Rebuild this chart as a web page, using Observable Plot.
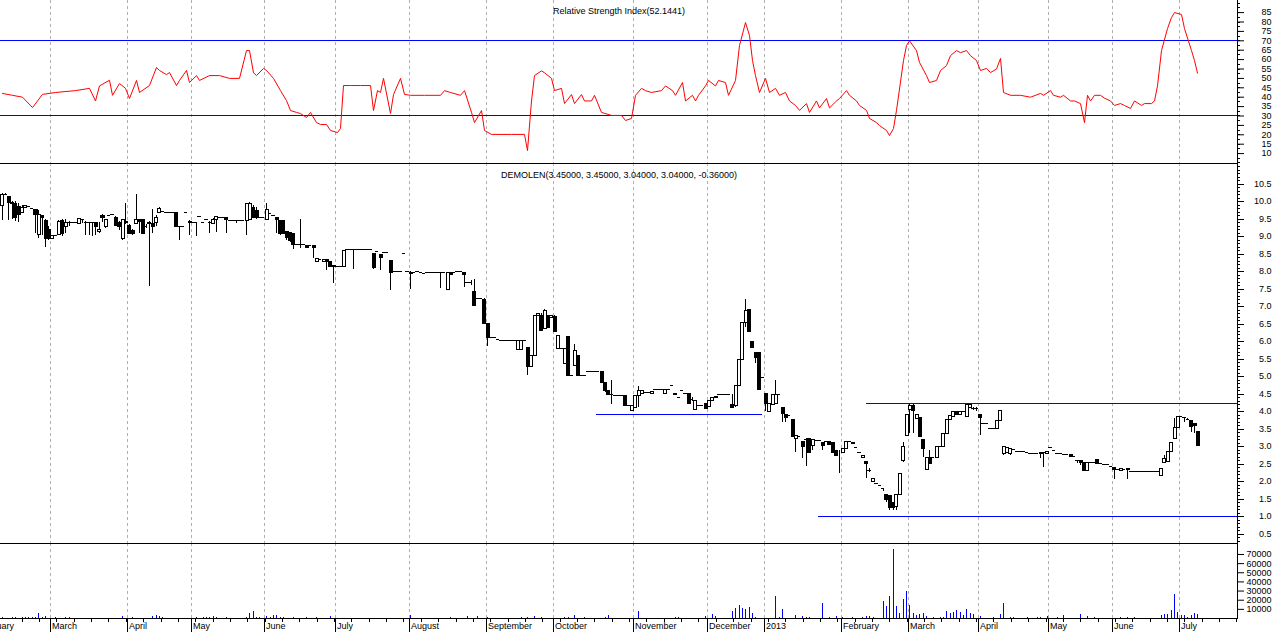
<!DOCTYPE html>
<html><head><meta charset="utf-8">
<script src="https://cdn.jsdelivr.net/npm/d3@7"></script>
<script src="https://cdn.jsdelivr.net/npm/@observablehq/plot@0.6"></script>
<style>
html,body{margin:0;padding:0;background:#fff;overflow:hidden;}
#chart{width:1274px;height:632px;overflow:hidden;}
#chart svg{display:block;}
</style></head><body><div id="chart"></div>
<script>
// Daily bars [open, high, low, close]; a single value = no-range day
const ohlc = [
// Feb 2012
[9.90,10.23,9.47,10.21],[10.22,10.24,10.2,10.22],[10.15,10.15,9.47,9.99],[9.98,10.0,9.5,9.95],[9.96,10.0,9.45,9.56],
[9.86,9.96,9.42,9.65],[9.7,9.88,9.7,9.85],[9.83,9.9,9.83,9.9],[9.87],[9.8],
[9.77,9.77,9.09,9.63],[9.07,9.75,8.94,9.63],[9.6,9.62,9.04,9.55],[9.47,9.5,8.68,8.94],[9.2,9.3,8.9,8.95],
// Mar 2012
[8.95,9.04,8.95,9.04],[9.04],[9.07,9.47,9.05,9.45],[9.47,9.5,9.0,9.09],[9.28,9.5,9.1,9.42],
[9.4,9.45,9.3,9.42],[9.42],[9.42],[9.37,9.52,9.37,9.51],[9.48,9.5,9.37,9.48],
[9.42,9.45,9.04,9.4],[9.42,9.42,9.04,9.42],[9.42,9.42,9.0,9.4],[9.4,9.42,9.04,9.3],[9.15,9.42,9.1,9.2],
[9.6,9.65,9.42,9.55],[9.28,9.5,9.25,9.48],[9.6],[9.63],[9.56,9.58,9.3,9.33],
[9.4,9.45,9.18,9.3],[8.94,9.5,8.9,9.48],[9.45,9.94,9.35,9.42],
// Apr 2012
[9.32,9.35,9.1,9.1],[9.18,9.2,9.05,9.08],[9.39,10.21,9.38,9.5],[9.48,9.5,9.1,9.45],[9.48,9.5,9.08,9.08],
[9.3,9.35,9.25,9.3],[9.42,9.45,7.58,9.38],[9.39,9.77,9.08,9.28],[9.4,9.6,9.3,9.55],[9.7,9.84,9.68,9.82],
[9.73],[9.7],[9.7],[9.7],[9.7,9.7,9.28,9.28],
[9.3,9.3,8.9,9.3],[9.3],[9.7],[9.45,9.47,9.04,9.42],
// May 2012
[9.42],[9.42,9.42,9.01,9.42],[9.58],[9.4],[9.5],
[9.42,9.45,9.08,9.42],[9.39,9.52,9.38,9.5],[9.5,9.58,9.13,9.58],[9.54],[9.54],
[9.56,9.56,9.1,9.48],[9.47],[9.47],[9.47,9.47,9.37,9.47],[9.47],
[9.47],[9.47,9.96,9.04,9.96],[9.5,9.98,9.47,9.96],[9.85,9.9,9.55,9.56],[9.75,9.85,9.48,9.55],
[9.56],[9.56],
// Jun 2012
[9.5,9.94,9.48,9.77],[9.66],[9.61],[9.54,9.54,9.09,9.48],[9.47,9.47,9.04,9.1],
[9.47,9.47,9.08,9.09],[9.16,9.16,8.9,8.99],[9.13,9.13,8.85,8.9],[9.08,9.1,8.65,8.78],[8.78],
[8.78,9.48,8.66,8.78],[8.78],[8.75,8.75,8.68,8.68],[8.75],[8.75,8.75,8.37,8.68],
[8.3,8.37,8.3,8.37],[8.35],[8.3,8.35,8.3,8.35],[8.35,8.35,8.04,8.3],[8.28,8.28,8.15,8.15],
[8.18,8.18,7.66,8.15],
// Jul 2012
[8.15],[8.15],[8.15,8.61,8.15,8.61],[8.63],[8.63],
[8.63,8.63,8.06,8.63],[8.63],[8.63],[8.63],[8.63],
[8.63],[8.53,8.53,8.06,8.11],[8.58],[8.5,8.5,8.04,8.42],[8.56],
[8.56],[8.32,8.32,7.47,7.99],[8.02],[8.02],[8.02],
[8.53],[8.02],
// Aug 2012
[7.99,8.0,7.49,7.95],[7.99],[8.02],[7.99],[7.94],
[7.99],[7.99],[7.99],[7.99],[7.99,7.99,7.51,7.99],
[7.99],[7.49,7.99,7.48,7.99],[7.99,7.99,7.92,7.92],[7.99],[8.02],
[8.02],[7.99,7.99,7.56,7.92],[7.7],[7.7,7.75,7.6,7.7],[7.45,7.77,7.04,7.04],
[7.23],[7.23],[7.2,7.23,6.53,6.53],
// Sep 2012
[6.51,6.51,5.87,6.13],[6.11],[6.11],[6.06],[6.04],
[6.04],[6.04],[6.04],[6.04],[5.77,6.04,5.77,6.04],
[5.77,6.04,5.75,6.04],[6.04],[5.85,5.85,5.04,5.28],[5.28,5.61,5.28,5.61],[5.61,6.75,5.61,6.75],
[6.75,6.8,6.75,6.8],[6.75,6.8,6.32,6.32],[6.37,6.92,6.37,6.9],[6.75,6.75,6.42,6.42],[6.7,6.75,6.68,6.75],
// Oct 2012
[6.72,6.75,6.27,6.28],[5.8,6.18,5.8,6.18],[5.8],[5.37,5.8,5.37,5.8],[6.15,6.15,5.04,5.04],
[5.04],[5.32,5.91,5.32,5.75],[5.6,5.6,5.04,5.04],[5.04],[5.04],
[5.16],[5.16],[5.16],[5.16],[5.16,5.16,4.85,4.85],
[4.85,4.85,4.56,4.6],[4.6,4.6,4.5,4.5],[4.5,4.88,4.2,4.5],[4.46],[4.46],
[4.46],[4.46,4.46,4.18,4.18],[4.18],[4.04,4.18,4.04,4.18],
// Nov 2012
[4.13,4.47,4.13,4.47],[4.47,4.72,4.13,4.6],[4.53,4.61,4.53,4.61],[4.56],[4.56],
[4.53,4.59,4.53,4.59],[4.63],[4.63],[4.63],[4.53,4.63,4.53,4.63],
[4.63],[4.75],[4.53,4.53,4.49,4.49],[4.42],[4.61],
[4.51],[4.51,4.51,4.25,4.25],[4.35,4.42,4.28,4.35],[4.06,4.32,4.06,4.32],[4.18],
[4.18],[4.25,4.25,4.09,4.09],
// Dec 2012
[4.15,4.32,4.15,4.32],[4.32,4.42,4.32,4.42],[4.4,4.44,4.4,4.44],[4.5],[4.5],
[4.5],[4.5],[4.2,4.5,4.08,4.13],[4.18,4.75,4.13,4.75],[4.75,5.5,4.75,5.5],
[5.5,6.56,5.5,6.56],[6.56,7.2,6.4,6.9],[6.91,6.91,6.3,6.3],[6.02,6.02,5.83,5.83],[5.7,5.7,5.37,5.56],
[5.7,5.7,4.63,4.63],[4.99],
// Jan 2013
[4.53,4.53,4.0,4.25],[4.02,4.25,4.0,4.25],[4.2,4.5,4.2,4.48],[4.23,4.9,4.2,4.5],[4.5],
[4.13,4.13,3.7,3.96],[3.92,3.92,3.7,3.85],[3.89],[3.77,3.77,3.29,3.29],[3.23,3.32,2.85,3.32],
[3.29],[3.16,3.16,2.66,3.0],[3.2,3.23,2.44,3.2],[3.25,3.25,2.85,2.85],[3.04,3.2,2.88,3.2],
[3.18],[3.18],[3.13,3.13,2.89,3.04],[3.16],[3.16,3.16,3.06,3.06],
[3.13,3.13,2.85,2.85],[2.9,2.9,2.75,2.75],[2.9,2.9,2.23,2.88],
// Feb 2013
[2.85,2.94,2.85,2.94],[2.94,3.16,2.94,3.16],[3.16],[3.13,3.13,3.08,3.08],[2.99],
[2.85],[2.69,2.75,2.69,2.75],[2.59,2.59,2.08,2.51],[2.33,2.37,2.27,2.33],[2.02,2.08,2.02,2.08],
[1.96],[1.89],[1.8,1.8,1.73,1.8],[1.65,1.65,1.42,1.5],[1.61,1.61,1.18,1.27],
[1.42,1.42,1.18,1.27],[1.29,1.65,1.18,1.65],[1.65,2.25,1.65,2.25],[2.61,3.13,2.56,3.01],[3.32,3.92,3.32,3.92],
// Mar 2013
[4.06,4.2,3.37,4.18],[4.18,4.21,3.37,4.04],[3.8,3.92,3.8,3.92],[3.83,3.83,3.29,3.29],[3.2,3.2,2.68,2.94],
[2.34,2.68,2.34,2.68],[2.68,2.89,2.53,2.53],[2.7],[2.7,3.01,2.7,3.01],[3.01],
[3.0,3.39,3.0,3.39],[3.39,3.77,3.39,3.77],[3.77,3.89,3.77,3.89],[3.86,4.02,3.86,4.02],[4.02,4.02,3.92,3.92],
[3.92,4.02,3.92,4.02],[4.02],[3.86,4.21,3.86,4.21],[4.13,4.21,4.13,4.21],[4.1,4.12,4.03,4.1],
[4.1,4.12,4.0,4.08],
// Apr 2013
[3.92,3.92,3.32,3.83],[3.66],[3.66],[3.51],[3.51],
[3.51,3.75,3.51,3.75],[3.75,4.04,3.75,4.04],[2.8,3.01,2.75,3.01],[2.85,2.99,2.85,2.99],[2.82,2.94,2.75,2.94],
[2.91],[2.87],[2.87],[2.87],[2.85],
[2.82],[2.82],[2.82],[2.85,2.85,2.66,2.82],[2.85,2.85,2.4,2.85],
[2.82,2.87,2.82,2.87],
// May 2013
[2.97],[2.89],[2.82],[2.82],[2.78],
[2.78],[2.78,2.78,2.72,2.72],[2.72],[2.6,2.61,2.52,2.6],[2.6,2.6,2.47,2.55],
[2.56,2.56,2.31,2.31],[2.31,2.56,2.31,2.56],[2.56],[2.56],[2.65,2.65,2.51,2.51],
[2.53],[2.49],[2.49],[2.44],
// Jun 2013
[2.4,2.4,2.06,2.34],[2.34],[2.32,2.38,2.32,2.38],[2.34],[2.37,2.37,2.06,2.34],
[2.3],[2.3],[2.28],[2.28],[2.28],
[2.28],[2.28],[2.28],[2.28],[2.18,2.37,2.18,2.37],
[2.56,2.75,2.53,2.66],[2.59,2.87,2.59,2.87],[2.87,3.13,2.87,3.13],[3.23,3.8,3.23,3.54],[3.54,3.87,3.54,3.87],
// Jul 2013
[3.87],[3.83,3.85,3.7,3.83],[3.77,3.8,3.76,3.77],[3.75,3.75,3.42,3.58],[3.67,3.67,3.37,3.6],
[3.45,3.45,3.04,3.04]
];

// Volume: bar index and shares
const volIdx = [0,3,4,6,7,8,9,10,11,12,13,16,19,20,36,39,45,46,47,48,58,60,61,62,63,64,67,73,74,75,76,77,79,80,81,82,83,84,87,91,94,98,
122,134,139,142,145,155,157,159,161,168,169,171,174,180,181,190,201,202,210,212,213,218,219,220,221,222,223,224,225,
231,232,233,237,239,240,241,245,247,249,251,254,257,258,259,260,263,264,265,266,267,268,269,270,271,272,273,274,275,276,
278,280,281,282,283,284,285,286,287,288,289,290,292,296,298,299,301,302,306,309,310,312,315,317,322,324,326,334,336,338,
346,347,348,349,350,351,352,353,354,355,356,357];
const volVal = [1100,1100,1100,1100,1100,1100,1100,1100,5500,1100,2200,1100,1100,1100,2200,1100,2200,3300,2200,1100,1100,1100,1100,1100,2200,1100,1100,1100,5500,8000,1100,1100,2200,1100,3300,3300,1100,1100,1100,1100,1100,2200,
3300,1100,2200,2200,1100,1100,1100,2200,1100,1100,1100,3300,1100,1100,3300,8000,1100,1100,2200,4400,2200,8000,11000,13800,11000,9500,11600,5500,1100,
23600,1100,9800,3300,2200,1100,1100,16000,1100,2200,1100,1100,1100,2200,2200,1100,19000,13500,23600,75000,12700,5500,20700,29800,14500,5500,3300,4400,5500,2200,
1100,1100,1100,7600,5500,6500,8700,6500,3300,9800,5500,4400,2200,1100,4400,16300,1100,1100,1100,1100,1100,2200,1100,3300,4400,2200,1100,1100,1100,1100,
3300,4400,4400,8700,26000,6500,3300,3300,1100,3300,5500,4400];

// RSI readings [bar index, value]
const rsiPts = [[0,42],[3,41],[6,40],[9,34.5],[12,41.5],[16,42.5],[22,43.5],[26,44.7],[28,38],[29,46],[32,49],[33,41],[35,47.3],[37,44.7],[38,39.3],[40,48.9],[41,42.5],[44,46.2],[46,55.8],[47,54.2],[49,52],[50,53.1],[52,46.2],[53,48.9],[55,54.2],[56,47.8],[58,51.5],[59,48.9],[62,51.5],[65,51.5],[68,50],[71,50],[73,64.8],[74,64.8],[75,53],[76,51.5],[78,55.3],[79,54.2],[81,50],[83,43.5],[85,38.2],[86,32.9],[88,31.9],[89,31.3],[91,29.2],[92,31.9],[94,26.5],[95,25.5],[97,25.5],[98,22.3],[100,21.2],[101,23.4],[102,46.2],[104,46.2],[107,46.2],[110,46.2],[111,32.9],[112,43.5],[113,42.5],[114,50],[116,31.3],[117,41.4],[119,50],[120,41.5],[122,41],[126,41],[131,41],[132,43.5],[134,42.5],[137,41],[138,43.5],[140,31.9],[141,26.5],[143,32.9],[144,22.3],[146,20.2],[152,20.2],[156,20.2],[157,11.6],[158,38],[159,51.5],[161,54],[162,53],[164,50],[165,43.5],[167,44.7],[168,36.6],[170,41.4],[171,36.6],[173,41.4],[174,38],[176,38],[177,41],[179,31.9],[182,30.3],[185,30.3],[186,27.6],[188,28.7],[189,41],[191,44.7],[192,43.5],[194,42.5],[197,43.5],[198,46],[200,43.5],[201,41],[203,47.8],[204,38],[206,41],[207,38],[208,41],[210,46],[211,48.9],[213,46],[214,48.9],[216,47.8],[217,41],[219,48.9],[220,67.5],[222,79.7],[223,72.8],[224,59.5],[225,51.5],[226,42.5],[228,50],[229,42.5],[231,44.7],[232,41],[234,42.5],[235,38],[237,35.6],[238,33],[240,36.6],[241,31.9],[243,38],[244,34.3],[246,39.3],[247,34.3],[249,38],[250,39.3],[252,43.5],[253,41],[255,38],[256,35.6],[258,33],[259,28.7],[261,26.5],[262,24.9],[264,22.3],[265,19.6],[266,23.4],[267,33],[269,59.5],[270,67.5],[271,70],[273,64.8],[274,58.5],[276,51.5],[277,47.8],[279,48.9],[280,54.2],[282,56.8],[283,62.1],[285,64.8],[286,63.7],[288,64.8],[289,62.1],[291,59.5],[292,54.2],[294,55.3],[295,53.1],[297,55],[298,60.6],[299,42.5],[301,41],[304,41],[307,40],[310,42],[311,41],[313,43.5],[314,41],[316,40],[317,41],[319,38],[320,38],[322,36.6],[323,26.5],[324,41],[325,38],[326,41],[328,41],[329,39.5],[331,38],[332,35.6],[334,36.6],[335,35.6],[337,34],[338,38],[340,35.6],[341,36.6],[343,36.6],[344,38],[345,46],[346,64.8],[348,76.5],[349,82.4],[350,85],[352,84],[353,76.5],[355,64.8],[356,59.5],[357,52.8]];

const rsiLevels = [70, 30];
const rsiTicks = [10,15,20,25,30,35,40,45,50,55,60,65,70,75,80,85];
const priceTicks = [0.5,1.0,1.5,2.0,2.5,3.0,3.5,4.0,4.5,5.0,5.5,6.0,6.5,7.0,7.5,8.0,8.5,9.0,9.5,10.0,10.5];
const volTicks = [10000,20000,30000,40000,50000,60000,70000];
// first bar index of each month and its label
const monthStart = [-7,15,38,57,79,100,122,145,165,189,211,228,251,271,292,313,332,352];
const monthLabel = ["February","March","April","May","June","July","August","September","October","November","December","2013","February","March","April","May","June","July"];
// horizontal trend lines on the price pane: from bar, to bar, price
const trendFrom = [177.5, 243.7, 258];
const trendTo = [227, 369, 369];
const trendPrice = [3.92, 1.0, 4.23];

const rsiTitle = "Relative Strength Index(52.1441)";
const priceTitle = "DEMOLEN(3.45000, 3.45000, 3.04000, 3.04000, -0.36000)";

// ---- build ----
const W = 1274, MR = 37;
const xDomain = [-0.448, 368.8];
const xEnd = xDomain[1];
const pxPerBar = 1237 / (xDomain[1] - xDomain[0]);
const style = {fontFamily: "'Liberation Sans', Arial, sans-serif", fontSize: "9px", background: "white", color: "#000", overflow: "visible"};
const crisp = {shapeRendering: "crispEdges"};
const bars = ohlc.map((r, i) => {
  const [o, h, l, c] = r.length === 1 ? [r[0], r[0], r[0], r[0]] : r;
  return {i, o, h, l, c};
});
const flat = bars.filter(d => Math.abs(d.c - d.o) < 0.02);
const up = bars.filter(d => d.c - d.o >= 0.02);
const down = bars.filter(d => d.o - d.c >= 0.02);
const grid = monthStart.map(s => s - 0.5);
const months = monthStart.map((s, k) => ({g: s - 0.5, label: monthLabel[k]}));
const vol = volIdx.map((i, k) => ({i, v: volVal[k]}));
const trend = trendFrom.map((a, k) => ({x1: a, x2: trendTo[k], y: trendPrice[k]}));
const weekTicks = d3.range(6.03, 369, 5.18);
const xOpts = {domain: xDomain, round: true, axis: null};
const gridMark = () => Plot.ruleX(grid, {stroke: "#b0b0b0", strokeDasharray: "3,3", ...crisp});
// short right-side tick marks drawn just outside the frame
const minorTicks = (vals) => Plot.ruleY(vals, {x1: xEnd, x2: xEnd + 3 / pxPerBar, stroke: "#000", ...crisp});
const rightAxis = (vals, fmt) => Plot.axisY(vals, {anchor: "right", label: null, tickSize: 6, tickPadding: 28, textAnchor: "end", tickFormat: fmt});
const common = {width: W, marginLeft: 0, marginRight: MR, marginTop: 0, style};

const rsiPlot = Plot.plot({
  ...common, height: 163, marginBottom: 0,
  x: xOpts,
  y: {domain: [4.73, 91.44], axis: null},
  marks: [
    gridMark(),
    Plot.ruleY(rsiLevels, {stroke: "#0000ff", ...crisp}),
    Plot.line(rsiPts, {x: d => d[0], y: d => d[1], stroke: "#ff0000", strokeWidth: 1}),
    Plot.frame({anchor: "right", ...crisp}),
    minorTicks(d3.range(5, 91, 2.5)),
    rightAxis(rsiTicks, d => String(d)),
    Plot.text([rsiTitle], {frameAnchor: "top", dy: 7, text: d => d})
  ]
});

const pricePlot = Plot.plot({
  ...common, height: 380, marginBottom: 0,
  x: xOpts,
  y: {domain: [0.237, 11.094], axis: null, round: true},
  marks: [
    gridMark(),
    Plot.ruleY(trend, {y: "y", x1: "x1", x2: "x2", stroke: "#0000ff", ...crisp}),
    Plot.ruleX(bars, {x: "i", y1: "l", y2: "h", stroke: "#000", ...crisp}),
    Plot.ruleY(flat, {y: "c", x1: d => d.i - 0.5, x2: d => d.i + 0.5, stroke: "#000", ...crisp}),
    Plot.rect(up, {x1: d => d.i - 0.45, x2: d => d.i + 0.45, y1: "o", y2: "c", fill: "white", stroke: "#000", ...crisp}),
    Plot.rect(down, {x1: d => d.i - 0.45, x2: d => d.i + 0.45, y1: "o", y2: "c", fill: "#000", stroke: "#000", ...crisp}),
    Plot.frame({anchor: "top", ...crisp}),
    Plot.frame({anchor: "right", ...crisp}),
    minorTicks(d3.range(0.3, 11.05, 0.1)),
    rightAxis(priceTicks, d => d.toFixed(1)),
    Plot.text([priceTitle], {frameAnchor: "top", dy: 8, text: d => d})
  ]
});

const volPlot = Plot.plot({
  ...common, height: 89, marginBottom: 14,
  x: xOpts,
  y: {domain: [0, 82000], axis: null},
  marks: [
    gridMark(),
    Plot.ruleX(vol, {x: "i", y1: 0, y2: "v", stroke: "#0000ff", ...crisp}),
    Plot.frame({anchor: "top", ...crisp}),
    Plot.frame({anchor: "bottom", ...crisp}),
    Plot.frame({anchor: "right", ...crisp}),
    rightAxis(volTicks, d => String(d)),
    Plot.axisX(grid, {anchor: "bottom", label: null, tickSize: 14, tickFormat: () => ""}),
    Plot.axisX(weekTicks, {anchor: "bottom", label: null, tickSize: 4, tickFormat: () => ""}),
    Plot.text(months, {x: "g", frameAnchor: "bottom", dy: 10.5, dx: 1.5, textAnchor: "start", text: "label"})
  ]
});

document.getElementById("chart").append(rsiPlot, pricePlot, volPlot);
</script>
</body></html>
